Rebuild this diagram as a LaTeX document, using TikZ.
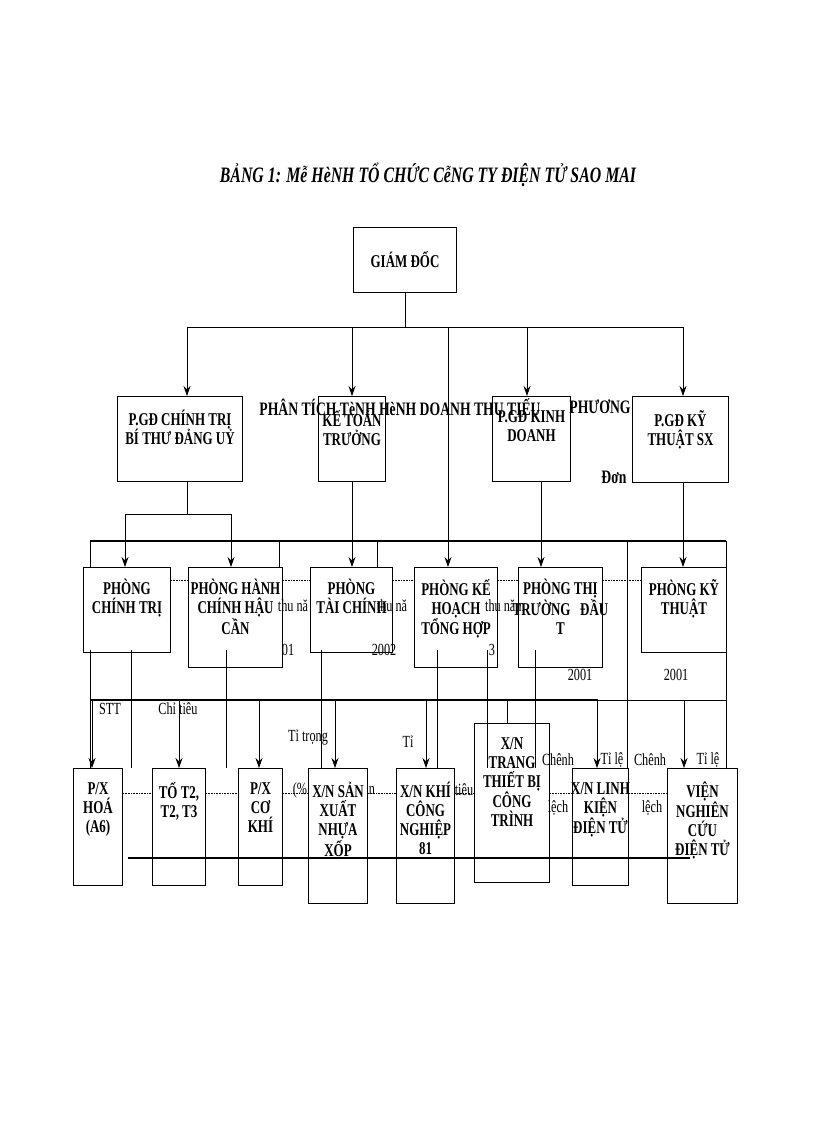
\documentclass[tikz,border=0pt]{standalone}
\usepackage{fontspec}
\setmainfont[FakeStretch=0.72]{Liberation Serif}
\usetikzlibrary{arrows.meta}
\begin{document}
\begin{tikzpicture}[x=1pt,y=-1pt,
 bx/.style={draw,line width=1pt,align=center,font=\fontsize{18}{18}\selectfont\bfseries,inner sep=0pt},
 tx/.style={align=center,font=\fontsize{18}{19}\selectfont\bfseries,anchor=north,inner sep=0pt},
 ln/.style={line width=0.8pt},
 ar/.style={line width=0.8pt,-{Stealth[length=10pt,width=7pt]}},
 dl/.style={densely dotted,line width=0.6pt},
 st/.style={font=\fontsize{17}{17}\selectfont,inner sep=0pt}]
\useasboundingbox (0,0) rectangle (816,1123);
\node[font=\fontsize{22}{22}\selectfont\bfseries\itshape] (title) at (428,175) {BẢNG 1: Mễ HèNH TỔ CHỨC CễNG TY ĐIỆN TỬ SAO MAI};
% stray texts
\node[st,font=\fontsize{19}{19}\selectfont\bfseries] (s1) at (400,407) {PHÂN TÍCH TèNH HèNH DOANH THU TIẾU};
\node[st,font=\fontsize{19}{19}\selectfont\bfseries] (s2) at (600,407) {PHƯƠNG};
\node[st,font=\fontsize{19}{19}\selectfont\bfseries] (s3) at (614,477) {Đơn};
\node[st] (t1) at (293,606) {thu nă}; \node[st] (t2) at (392,606) {thu nă}; \node[st] (t3) at (505,606) {thu năm};
\node[st] (y1) at (288,650) {01}; \node[st] (y2) at (384,650) {2002}; \node[st] (y3) at (492,650) {3};
\node[st] (y4) at (580,675) {2001}; \node[st] (y5) at (676,675) {2001};
\node[st] (u1) at (110,709) {STT}; \node[st] (u2) at (178,709) {Chỉ tiêu};
\node[st] (u3) at (308,738) {Tỉ trọng}; \node[st] (u4) at (408,742) {Tỉ};
\node[st] (u5) at (300,790) {(\%}; \node[st] (u6) at (372,790) {n}; \node[st] (u7) at (464,790) {tiêu};
\node[st] (u8) at (558,760) {Chênh}; \node[st] (u9) at (558,808) {lệch}; \node[st] (u10) at (612,760) {Tỉ lệ};
\node[st] (u11) at (650,760) {Chênh}; \node[st] (u12) at (652,808) {lệch}; \node[st] (u13) at (708,760) {Tỉ lệ};
% boxes
\node[bx,minimum width=103pt,minimum height=64pt] (gd) at (405,260) {GIÁM ĐỐC};
\node[bx,anchor=north west,minimum width=125pt,minimum height=85pt] (ct) at (117,396) {};
\node[bx,anchor=north west,minimum width=67pt,minimum height=85pt] (kt) at (318,396) {};
\node[bx,anchor=north west,minimum width=78pt,minimum height=85pt] (kd) at (492,396) {};
\node[bx,anchor=north west,minimum width=96pt,minimum height=86pt] (ks) at (632,396) {};
\foreach \n/\t in {ct/{P.GĐ CHÍNH TRỊ\\BÍ THƯ ĐẢNG UỶ},kt/{KẾ TOÁN\\TRƯỞNG},kd/{P.GĐ KINH\\DOANH},ks/{P.GĐ KỸ\\THUẬT SX}}
 \node[tx] at ([yshift=-14pt]\n.north) {\t};
% level 3
\foreach \n/\x/\w/\h in {pct/83/87/85,phc/188/94/100,ptc/310/82/85,pkh/414/83/100,ptt/518/84/100,pkt/641/85/85}
 \node[bx,anchor=north west,minimum width=\w pt,minimum height=\h pt] (\n) at (\x,567) {};
\foreach \n/\t in {pct/{PHÒNG\\CHÍNH TRỊ},phc/{PHÒNG HÀNH\\CHÍNH HẬU\\CẦN},ptc/{PHÒNG\\TÀI CHÍNH},pkh/{PHÒNG KẾ\\HOẠCH\\TỔNG HỢP},ptt/{PHÒNG THỊ\\TRƯỜNG \ \ ĐẦU\\T},pkt/{PHÒNG KỸ\\THUẬT}}
 \node[tx] at ([yshift=-12pt]\n.north) {\t};
% level 4
\foreach \n/\x/\y/\w/\h in {l1/73/768/49/117,l2/152/768/53/117,l3/238/768/44/117,l4/308/768/59/135,l5/396/768/58/135,l6/474/723/75/159,l7/572/768/56/117,l8/667/768/70/135}
 \node[bx,anchor=north west,minimum width=\w pt,minimum height=\h pt] (\n) at (\x,\y) {};
\foreach \n/\t in {l1/{P/X\\HOÁ\\(A6)},l2/{TỐ T2,\\T2, T3},l3/{P/X\\CƠ\\KHÍ},l4/{X/N SẢN\\XUẤT\\NHỰA\\XỐP},l5/{X/N KHÍ\\CÔNG\\NGHIỆP\\81},l6/{X/N\\TRANG\\THIẾT BỊ\\CÔNG\\TRÌNH},l7/{X/N LINH\\KIỆN\\ĐIỆN TỬ},l8/{VIỆN\\NGHIÊN\\CỨU\\ĐIỆN TỬ}}
 \node[tx] at ([yshift=-14pt]\n.north) {\t};
% connectors level 1-2
\coordinate (b1) at (405,327); \coordinate (h1) at (187,327); \coordinate (h2) at (683,327);
\draw[ln] (gd.south) -- (b1); \draw[ln] (h1) -- (h2);
\draw[ar] (h1) -- (187,396); \draw[ar] (352,327) -- (kt.north); \draw[ar] (527,327) -- (527,396); \draw[ar] (h2) -- (683,396);
\draw[ar] (448,327) -- (448,567);
% level 2-3
\draw[ln] (187,481) -- (187,514) (125,514) -- (231,514);
\draw[ar] (125,514) -- (125,567); \draw[ar] (231,514) -- (231,567);
\draw[ar] (352,481) -- (352,567); \draw[ar] (541,481) -- (541,567); \draw[ar] (683,482) -- (683,567);
\draw[line width=1.4pt] (90,541) -- (726,541);
\foreach \x in {90,279,377,627,726} \draw[ln] (\x,541) -- (\x,567);
\draw[dl] (pct.east|-0,580) -- (phc.west|-0,580) (phc.east|-0,580) -- (ptc.west|-0,580) (ptc.east|-0,580) -- (pkh.west|-0,580) (pkh.east|-0,580) -- (ptt.west|-0,580) (ptt.east|-0,580) -- (pkt.west|-0,580);
% verticals through level 3
\foreach \x in {90,131,226,321,437,487,535,627,726} \draw[ln] (\x,650) -- (\x,768);
\draw[ln] (627,567) -- (627,650) (726,652) -- (726,768);
\draw[line width=1.4pt] (90,700) -- (598,700);
\draw[ln] (598,700) -- (726,700);
\draw[ar] (92,700) -- (92,768); \draw[ar] (179,700) -- (179,768); \draw[ar] (259,700) -- (259,768);
\draw[ar] (335,700) -- (335,768); \draw[ar] (426,700) -- (426,768); \draw[ar] (597,700) -- (597,768);
\draw[ar] (684,700) -- (684,768);
\draw[ln] (507,700) -- (507,723);
\draw[line width=1.2pt] (128,858) -- (690,858);
\draw[dl] (l1.east|-0,793) -- (l2.west|-0,793) (l2.east|-0,793) -- (l3.west|-0,793) (l3.east|-0,793) -- (l4.west|-0,793) (l4.east|-0,793) -- (l5.west|-0,793) (l5.east|-0,793) -- (l6.west|-0,793) (l6.east|-0,793) -- (l7.west|-0,793) (l7.east|-0,793) -- (l8.west|-0,793);
\end{tikzpicture}
\end{document}
